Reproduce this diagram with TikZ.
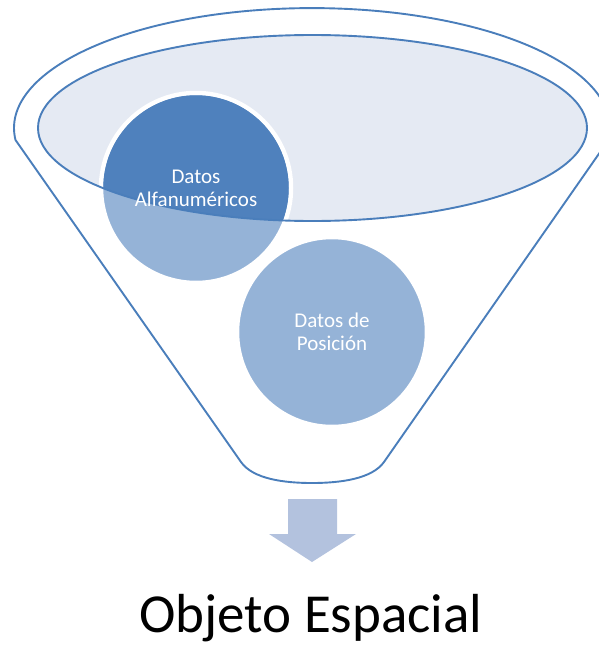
\documentclass[tikz,border=0pt]{standalone}
\usepackage{fontspec}
\setmainfont{Carlito}
\usepackage{tikz}

\definecolor{funnelblue}{RGB}{74,126,187}
\definecolor{darkdata}{RGB}{79,129,189}
\definecolor{lightdata}{RGB}{149,179,215}
\definecolor{mouthfill}{RGB}{229,234,243}
\definecolor{arrowfill}{RGB}{179,194,222}

\tikzset{
  funnel/.style={draw=funnelblue, line width=1.9pt},
  datos/.style={circle, fill=lightdata, draw=white, line width=4.5pt,
    minimum size=190pt, inner sep=0pt},
  datostext/.style={text=white, align=center,
    font=\fontsize{21}{23.3}\selectfont},
}

\begin{document}
\begin{tikzpicture}[x=1pt,y=-1pt]
        \useasboundingbox (0,0) rectangle (599,645);
        \clip (0,0) rectangle (599,645);
        % funnel body
        \draw [funnel] (15.5,140) arc [start angle=185.7, end angle=-5.7, x radius=298pt, y radius=120pt]
            -- (384,462) .. controls (372,479) and (340,483) .. (312,483)
            .. controls (284,483) and (253,479) .. (241,462) -- cycle;
        \fill [mouthfill] (312.5,128) ellipse [x radius=274.5pt, y radius=93pt];
        % data circles
        \node [datos] (alfa) at (196,188) {};
        \begin{scope}
            \clip (312.5,128) ellipse [x radius=274.5pt, y radius=93pt];
            \fill [darkdata] (alfa) circle [radius=92.75pt];
        \end{scope}
        \draw [funnel] (312.5,128) ellipse [x radius=274.5pt, y radius=93pt];
        \node [datostext] (alfatext) at (alfa) {Datos\\Alfanuméricos};
        \node [datos, datostext] (posicion) at (332,332) {Datos de\\Posición};
        % output arrow
        \fill [arrowfill] (288,499) -- (337,499) -- (337,534) -- (356,534)
            -- (312,562) -- (269,534) -- (288,534) -- cycle;
        \node [font=\fontsize{55}{66}\selectfont, anchor=base] (objeto) at (311,632) {Objeto Espacial};
    \end{tikzpicture}
\end{document}
